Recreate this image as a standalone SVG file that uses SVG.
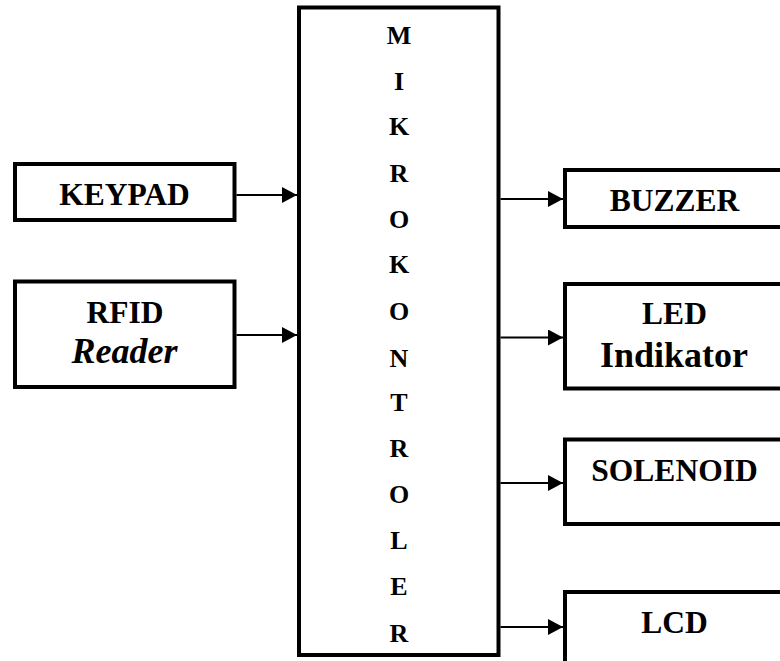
<svg xmlns="http://www.w3.org/2000/svg" width="780" height="661" viewBox="0 0 780 661">
  <style>
    .box { fill: #fff; stroke: #000; stroke-width: 4; }
    text { font-family: "Liberation Serif", "Times New Roman", Times, serif; font-weight: bold; fill: #000; text-anchor: middle; }
    .big { font-size: 31.5px; }
    .ch { font-size: 26px; }
    .line2 { font-size: 36px; }
    .wire { stroke: #000; stroke-width: 2; fill: none; marker-end: url(#tip); }
  </style>
  <defs>
    <marker id="tip" markerUnits="userSpaceOnUse" markerWidth="15" markerHeight="16" refX="15" refY="8" orient="auto">
      <path d="M0,0 L15,8 L0,16 Z" fill="#000"/>
    </marker>
  </defs>
  <rect width="780" height="661" fill="#fff"/>

  <g id="keypad">
    <rect class="box" x="15" y="164" width="219.5" height="56"/>
    <text class="big" x="124.5" y="205">KEYPAD</text>
  </g>

  <g id="rfid-reader">
    <rect class="box" x="15" y="281.5" width="219.5" height="105.5"/>
    <text class="big" x="125" y="322.5">RFID</text>
    <text class="line2" x="124.5" y="362.5" font-style="italic">Reader</text>
  </g>

  <g id="mikrokontroler">
    <rect class="box" x="299" y="7.5" width="199.5" height="647.5"/>
    <text class="ch" x="399" y="44">M</text>
    <text class="ch" x="399" y="90">I</text>
    <text class="ch" x="399" y="135">K</text>
    <text class="ch" x="399" y="182">R</text>
    <text class="ch" x="399" y="228">O</text>
    <text class="ch" x="399" y="273">K</text>
    <text class="ch" x="399" y="320">O</text>
    <text class="ch" x="399" y="367">N</text>
    <text class="ch" x="399" y="411">T</text>
    <text class="ch" x="399" y="457">R</text>
    <text class="ch" x="399" y="503">O</text>
    <text class="ch" x="399" y="549">L</text>
    <text class="ch" x="399" y="595">E</text>
    <text class="ch" x="399" y="642">R</text>
  </g>

  <g id="buzzer">
    <rect class="box" x="565" y="170" width="222" height="57"/>
    <text class="big" x="674.5" y="211">BUZZER</text>
  </g>

  <g id="led-indikator">
    <rect class="box" x="565" y="284" width="222" height="104.5"/>
    <text class="big" x="674.5" y="324">LED</text>
    <text class="line2" x="674" y="366.5">Indikator</text>
  </g>

  <g id="solenoid">
    <rect class="box" x="565" y="439.5" width="222" height="84.5"/>
    <text class="big" x="674.5" y="481">SOLENOID</text>
  </g>

  <g id="lcd">
    <rect class="box" x="565" y="592" width="222" height="100"/>
    <text class="big" x="674.5" y="633">LCD</text>
  </g>

  <g id="connectors">
    <line class="wire" x1="236.5" y1="195" x2="297" y2="195"/>
    <line class="wire" x1="236.5" y1="335" x2="297" y2="335"/>
    <line class="wire" x1="500.5" y1="199" x2="563" y2="199"/>
    <line class="wire" x1="500.5" y1="337.5" x2="563" y2="337.5"/>
    <line class="wire" x1="500.5" y1="483" x2="563" y2="483"/>
    <line class="wire" x1="500.5" y1="627" x2="563" y2="627"/>
  </g>
</svg>
